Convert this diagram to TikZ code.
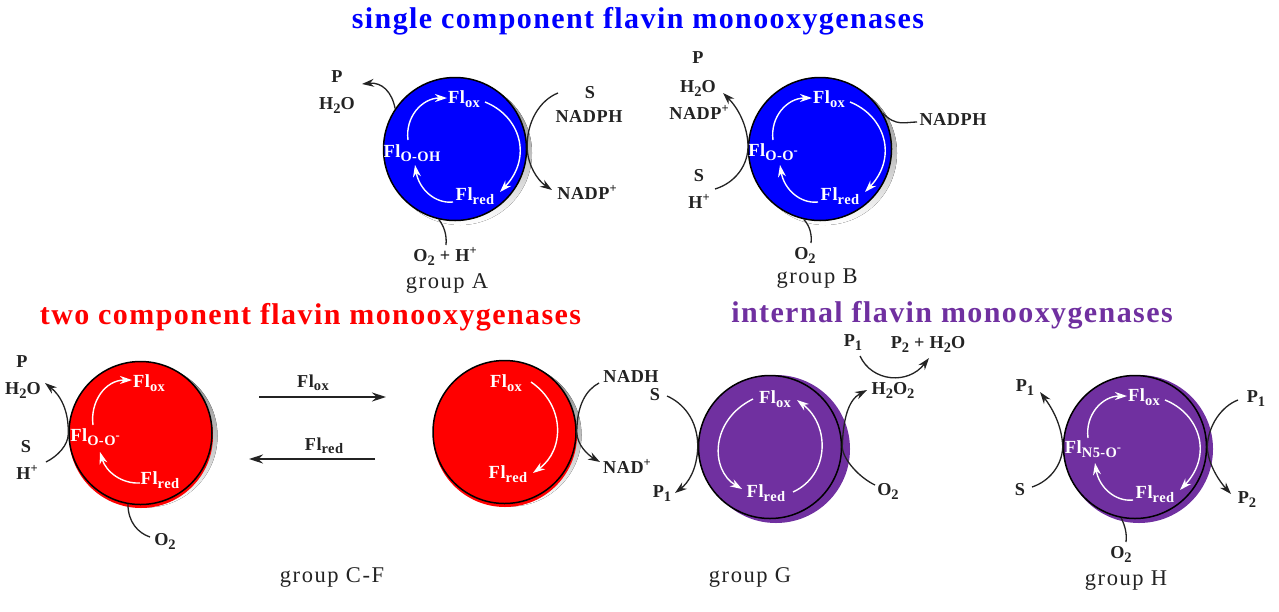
\documentclass[tikz,border=0pt]{standalone}
\usepackage{fontspec}
\setmainfont{Liberation Serif}[LetterSpace=3]
\newfontfamily\titlefont{Liberation Serif}[LetterSpace=4.7]
\newfontfamily\groupfont{Liberation Serif}[LetterSpace=7]
\usetikzlibrary{arrows.meta}
\definecolor{flblue}{RGB}{0,0,255}
\definecolor{flred}{RGB}{255,0,0}
\definecolor{flpurple}{RGB}{112,48,160}
\definecolor{shade}{RGB}{175,175,175}
\definecolor{ink}{RGB}{35,35,35}
\newcommand\labfont{\fontsize{18.2}{19}\selectfont\bfseries}
\newcommand\flfont{\fontsize{18.5}{19}\selectfont\bfseries}
\newcommand\grpfont{\groupfont\fontsize{22.5}{24}\selectfont}
\newcommand\ttlfont{\titlefont\fontsize{30}{32}\selectfont\bfseries}
\newcommand\tsub[1]{\smash{\raisebox{-0.2em}{\fontsize{14.5}{15}\selectfont #1}}}
\newcommand\tsup[1]{\smash{\raisebox{0.42em}{\fontsize{12.5}{13}\selectfont #1}}}
\tikzset{
  lab/.style={font=\labfont,text=ink,inner sep=0pt},
  grp/.style={font=\grpfont,text=ink,inner sep=0pt},
  ttl/.style={font=\ttlfont,inner sep=0pt},
  flab/.style={font=\flfont,text=white,inner sep=0pt},
  conn/.style={draw=ink,line width=1.3pt,-{Stealth[length=12pt,width=8pt]}},
  plainconn/.style={draw=ink,line width=1.3pt},
  wconn/.style={draw=white,line width=1.4pt,-{Stealth[length=12pt,width=8pt]}},
  rxn/.style={draw=ink,line width=1.5pt,-{Stealth[length=14pt,width=9pt]}},
  disc/.style={circle,draw=black,line width=1.5pt,minimum size=143pt,inner sep=0pt},
}
% three-stage cycle used in groups A, B, H: #1 prefix, #2 centre, #3 intermediate label, #4 its offset
\newcommand\flcycle[4]{%
  \begin{scope}[shift={#2}]
    \node[flab] (#1ox) at (9,-52) {Fl\tsub{ox}};
    \node[flab] (#1rd) at (20,45) {Fl\tsub{red}};
    \node[flab] (#1im) at #4 {Fl\tsub{#3}};
    \coordinate (#1a) at (-47,-9);
    \coordinate (#1b) at (-8,-51);
    \coordinate (#1c) at (30,-47);
    \coordinate (#1d) at (45,43);
    \coordinate (#1e) at (-2,53);
    \coordinate (#1f) at (-40,16);
    \draw[wconn] (#1a) .. controls (-50,-32) and (-33,-51) .. (#1b);
    \draw[wconn] (#1c) .. controls (65,-33) and (78,8) .. (#1d);
    \draw[wconn] (#1e) .. controls (-20,55) and (-36,40) .. (#1f);
  \end{scope}}
\begin{document}
\begin{tikzpicture}[x=1pt,y=-1pt]
\useasboundingbox (0,0) rectangle (1279,611);
\fill[white] (0,0) rectangle (1279,611);

% titles
\node[ttl,text=flblue] (t1) at (638,21) {single component flavin monooxygenases};
\node[ttl,text=flred] (t2) at (310.5,317) {two component flavin monooxygenases};
\node[ttl,text=flpurple] (t3) at (952,315) {internal flavin monooxygenases};

% discs
\fill[shade] (460,153) circle (72);
\node[disc,fill=flblue] (cA) at (455,149) {};
\fill[shade] (825,153) circle (72);
\node[disc,fill=flblue] (cB) at (820,149) {};
\fill[shade] (146,436) circle (71.5);
\fill[flred] (141,436) circle (72);
\node[disc,fill=flred] (cC) at (140.5,433) {};
\fill[shade] (510,435) circle (71.5);
\fill[flred] (505,435) circle (72);
\node[disc,fill=flred] (cD) at (504.5,432) {};
\fill[flpurple] (776,449) circle (74);
\node[disc,fill=flpurple] (cG) at (770,447) {};
\fill[flpurple] (1139,449) circle (74);
\node[disc,fill=flpurple] (cH) at (1135,447) {};

% cycles
\flcycle{A}{(455,149)}{O-OH}{(-43,2)}
\flcycle{B}{(820,149)}{O-O\tsup{-}}{(-47,1)}
\flcycle{H}{(1135,447)}{N5-O\tsup{-}}{(-42,0)}

% group C-F cycle
\node[flab] (Cox) at (149,381) {Fl\tsub{ox}};
\node[flab] (Crd) at (160,478) {Fl\tsub{red}};
\node[flab] (Cim) at (95,435) {Fl\tsub{O-O\tsup{-}}};
\coordinate (Ca) at (93,425);
\coordinate (Cb) at (132,380);
\coordinate (Cc) at (140,483);
\coordinate (Cd) at (100,452);
\draw[wconn] (Ca) .. controls (90,402) and (105,380) .. (Cb);
\draw[wconn] (Cc) .. controls (122,484) and (106,472) .. (Cd);

% group C-F second disc
\node[flab] (Dox) at (506,381) {Fl\tsub{ox}};
\node[flab] (Drd) at (508,472) {Fl\tsub{red}};
\coordinate (Da) at (531,382);
\coordinate (Db) at (533,473);
\draw[wconn] (Da) .. controls (565,405) and (565,450) .. (Db);

% group G cycle
\node[flab] (Gox) at (775,397) {Fl\tsub{ox}};
\node[flab] (Grd) at (766,491) {Fl\tsub{red}};
\coordinate (Ga) at (753,399);
\coordinate (Gb) at (742,489);
\coordinate (Gc) at (793,492);
\coordinate (Gd) at (797,400);
\draw[wconn] (Ga) .. controls (710,420) and (710,470) .. (Gb);
\draw[wconn] (Gc) .. controls (830,475) and (830,425) .. (Gd);

% group A labels and connectors
\node[lab] (AP) at (337,77) {P};
\node[lab] (AH2O) at (337,104) {H\tsub{2}O};
\node[lab] (AS) at (590,93) {S};
\node[lab] (ANADPH) at (589,117) {NADPH};
\node[lab] (ANADP) at (587,194) {NADP\tsup{+}};
\node[lab] (AO2) at (445,256) {O\tsub{2} + H\tsup{+}};
\node[grp] (Agrp) at (447,283) {group A};
\coordinate (A1) at (362,84);
\coordinate (A2) at (558,93);
\coordinate (A3) at (552,190);
\coordinate (A4) at (446,245);
\draw[conn] (cA.146) .. controls (392,92) and (382,82) .. (A1);
\draw[conn] (A2) .. controls (540,100) and (526,122) .. (cA.east) .. controls (528,165) and (537,180) .. (A3);
\draw[plainconn] (A4) .. controls (447,235) and (444,226) .. (cA.-103);

% group B labels and connectors
\node[lab] (BP) at (698,58) {P};
\node[lab] (BH2O) at (698,87) {H\tsub{2}O};
\node[lab] (BNADP) at (699,114) {NADP\tsup{+}};
\node[lab] (BS) at (699,176) {S};
\node[lab] (BH) at (699,203) {H\tsup{+}};
\node[lab] (BNADPH) at (953,120) {NADPH};
\node[lab] (BO2) at (805,254) {O\tsub{2}};
\node[grp] (Bgrp) at (817,279) {group B};
\coordinate (B1) at (715,189);
\coordinate (B2) at (723,93);
\coordinate (B3) at (917,122);
\coordinate (B4) at (811,243);
\draw[conn] (B1) .. controls (735,183) and (749,165) .. (cB.176) .. controls (747,125) and (738,108) .. (B2);
\draw[plainconn] (B3) .. controls (905,122) and (896,127) .. (cB.30);
\draw[plainconn] (B4) .. controls (812,235) and (810,226) .. (cB.-103);

% group C-F connectors
\node[lab] (CP) at (22,362) {P};
\node[lab] (CH2O) at (23,389) {H\tsub{2}O};
\node[lab] (CS) at (26,447) {S};
\node[lab] (CH) at (27,474) {H\tsup{+}};
\node[lab] (CO2) at (165,540) {O\tsub{2}};
\coordinate (C1) at (46,462);
\coordinate (C2) at (45,383);
\coordinate (C3) at (150,537);
\draw[conn] (C1) .. controls (58,456) and (68,445) .. (cC.181) .. controls (69,410) and (60,395) .. (C2);
\draw[plainconn] (C3) .. controls (138,533) and (128,522) .. (cC.-100);

\node[lab] (Fox) at (313,381) {Fl\tsub{ox}};
\node[lab] (Frd) at (324,444) {Fl\tsub{red}};
\coordinate (F1) at (259,397);
\coordinate (F2) at (386,397);
\coordinate (F3) at (375,459);
\coordinate (F4) at (249,459);
\draw[rxn] (F1) -- (F2);
\draw[rxn] (F3) -- (F4);
\node[grp] (Cgrp) at (332,577) {group C-F};

\node[lab] (DNADH) at (631,377) {NADH};
\node[lab] (DNAD) at (627,468) {NAD\tsup{+}};
\coordinate (D1) at (599,383);
\coordinate (D2) at (600,462);
\draw[conn] (D1) .. controls (586,390) and (577,405) .. (cD.east) .. controls (577,445) and (588,455) .. (D2);

% group G connectors
\node[lab] (GS) at (655,395) {S};
\node[lab] (GP1) at (662,492) {P\tsub{1}};
\node[lab] (GH2O2) at (893,389) {H\tsub{2}O\tsub{2}};
\node[lab] (GO2) at (888,490) {O\tsub{2}};
\node[lab] (GP1t) at (853,341) {P\tsub{1}};
\node[lab] (GP2) at (928,343) {P\tsub{2} + H\tsub{2}O};
\node[grp] (Ggrp) at (750,577) {group G};
\coordinate (G1) at (667,396);
\coordinate (G2) at (675,493);
\coordinate (G3) at (875,485);
\coordinate (G4) at (867,390);
\coordinate (G5) at (860,356);
\coordinate (G6) at (929,358);
\draw[conn] (G1) .. controls (683,403) and (698,420) .. (cG.west) .. controls (697,470) and (688,483) .. (G2);
\draw[conn] (G3) .. controls (860,478) and (843,460) .. (cG.east) .. controls (843,420) and (848,400) .. (G4);
\draw[conn] (G5) .. controls (872,382) and (908,385) .. (G6);

% group H connectors
\node[lab] (HP1) at (1025,386) {P\tsub{1}};
\node[lab] (HS) at (1020,490) {S};
\node[lab] (HP1r) at (1256,397) {P\tsub{1}};
\node[lab] (HP2) at (1247,498) {P\tsub{2}};
\node[lab] (HO2) at (1121,553) {O\tsub{2}};
\node[grp] (Hgrp) at (1126,581) {group H};
\coordinate (H1) at (1032,487);
\coordinate (H2) at (1040,392);
\coordinate (H3) at (1238,400);
\coordinate (H4) at (1231,494);
\coordinate (H5) at (1126,542);
\draw[conn] (H1) .. controls (1050,481) and (1062,465) .. (cH.west) .. controls (1062,425) and (1052,408) .. (H2);
\draw[conn] (H3) .. controls (1222,406) and (1208,425) .. (cH.east) .. controls (1208,465) and (1220,482) .. (H4);
\draw[plainconn] (H5) .. controls (1127,533) and (1125,526) .. (cH.-101);
\end{tikzpicture}
\end{document}
